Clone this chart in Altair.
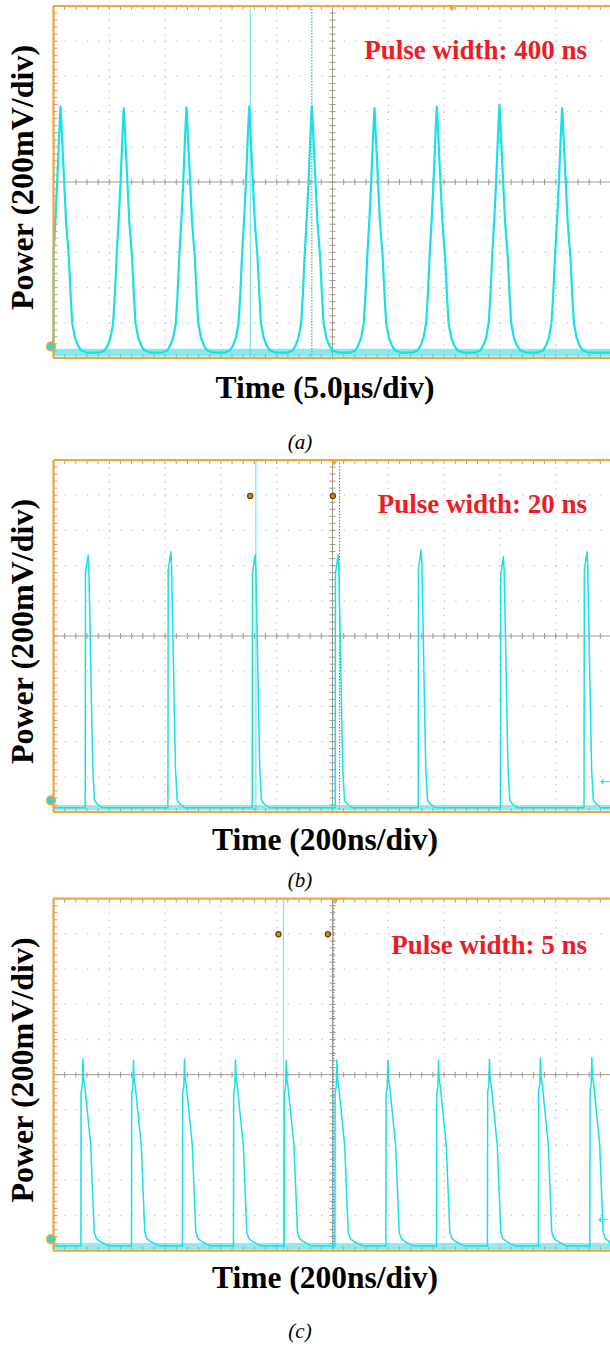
import altair as alt
import pandas as pd

# ---------------------------------------------------------------
# Oscilloscope captures of a pulse train at three pulse widths.
# Vertical values are in screen divisions (200 mV/div), 0 = bottom.
# ---------------------------------------------------------------

# (a) pulse width 400 ns, time base 5.0 µs/div (times in µs)
a_peak_time = [0.63, 6.30, 11.92, 17.54, 23.15, 28.76, 34.35, 39.96, 45.58]
a_peak_level = [7.14, 7.09, 7.12, 7.14, 7.16, 7.09, 7.14, 7.19, 7.09]
a_shape_dt = [-2.2, -1.7, -1.45, -1.2, -0.96, -0.8, -0.65, -0.45, -0.30, -0.13, -0.05, 0.0,
              0.05, 0.13, 0.33, 0.5, 0.74, 0.9, 1.05, 1.3, 1.55, 1.85, 2.4]
a_shape_frac = [0.0, 0.01, 0.03, 0.06, 0.12, 0.24, 0.39, 0.55, 0.69, 0.88, 0.96, 1.0,
                0.96, 0.88, 0.69, 0.53, 0.39, 0.24, 0.12, 0.06, 0.03, 0.01, 0.0]
a_base = 0.15
a_noise = [0.04, 0.26]

# (b) pulse width 20 ns, time base 200 ns/div (times in ns)
b_peak_time = [124.4, 420.8, 722.9, 1020.4, 1317.9, 1612.8, 1912.3]
b_peak_level = [7.30, 7.39, 7.30, 7.30, 7.44, 7.25, 7.39]
b_shape_dt = [-10.8, -9.7, 0.0, 2.2, 7.2, 11.8, 16.5, 22.6, 32.3, 50.2]
b_shape_frac = [0.0, 0.93, 1.0, 0.95, 0.68, 0.40, 0.15, 0.03, 0.015, 0.0]
b_base = 0.12
b_noise = [0.05, 0.2]

# (c) pulse width 5 ns, time base 200 ns/div (times in ns)
c_peak_time = [105.4, 286.7, 469.5, 652.3, 834.0, 1015.7, 1198.5, 1380.0,
               1562.6, 1745.3, 1929.6]
c_peak_level = [5.44, 5.40, 5.44, 5.42, 5.40, 5.42, 5.40, 5.40, 5.44, 5.48, 5.48]
c_shape_dt = [-7.2, -6.5, -2.2, 0.0, 2.2, 6.5, 28.0, 40.5, 48.4, 61.0, 93.2]
c_shape_frac = [0.0, 0.82, 0.86, 1.0, 0.90, 0.86, 0.54, 0.075, 0.04, 0.025, 0.0]
c_base = 0.13
c_noise = [0.05, 0.22]

# scope cursors and markers
a_cursor, a_marker_line, a_trigger = [17.63], [23.15], [35.7]
b_cursor, b_marker_line, b_trigger = [725.4], [1025.0], [1007.0]
c_cursor, c_marker_line, c_trigger = [824.3], [1004.0], [1010.0]
b_dot_time, b_dot_level = [705.0, 1001.4], [8.98, 8.98]
c_dot_time, c_dot_level = [806.4, 983.4], [8.99, 8.99]
b_arrow_time, b_arrow_level = [1977.0], [0.85]
c_arrow_time, c_arrow_level = [1970.0], [0.87]
ground_level = 0.33

# text
y_title = "Power (200mV/div)"
x_titles = ["Time (5.0\u00b5s/div)", "Time (200ns/div)", "Time (200ns/div)"]
captions = ["(a)", "(b)", "(c)"]
notes = ["Pulse width: 400 ns", "Pulse width: 20 ns", "Pulse width: 5 ns"]

# ---------------------------------------------------------------
FRAME_LEFT = 53.5
DIV_W = 55.8
DIV_H = 35.2
N_DIV = 10
RIGHT_EDGE = 610

FRAME = "#f2a53a"
GRID = "#c9c9c9"
AXIS = "#a39a8e"
TICK = "#a0a0a0"
TRACE = "#17e0e8"
NOISE = "#38d9dd"
CURSOR = "#7ee9f2"
DOTTED = "#2f9fae"
DOT = "#d98a12"
RED = "#ee1b24"
SERIF = "Liberation Serif"


def build_trace(peaks, levels, dts, fracs, base, t_end):
    rows = [(min(0.0, peaks[0] + dts[0]), base)]
    for tp, lv in zip(peaks, levels):
        for dt, f in zip(dts, fracs):
            rows.append((tp + dt, base + f * (lv - base)))
    rows.append((t_end, base))
    return pd.DataFrame({"t": [r[0] for r in rows], "v": [r[1] for r in rows],
                         "i": list(range(len(rows)))})


panels = [
    dict(span=50.0, bottom=358.0, peaks=a_peak_time, levels=a_peak_level,
         dts=a_shape_dt, fracs=a_shape_frac, base=a_base, noise=a_noise,
         cursor=a_cursor, marker_line=a_marker_line, trigger=a_trigger,
         dots=None, arrow=None, lw=2.2, noise_op=0.6,
         title_y=177.5, xt_base=398, cap_base=449, note_base=59),
    dict(span=2000.0, bottom=812.0, peaks=b_peak_time, levels=b_peak_level,
         dts=b_shape_dt, fracs=b_shape_frac, base=b_base, noise=b_noise,
         cursor=b_cursor, marker_line=b_marker_line, trigger=b_trigger,
         dots=(b_dot_time, b_dot_level), arrow=(b_arrow_time, b_arrow_level),
         lw=1.5, noise_op=0.55,
         title_y=631.5, xt_base=850, cap_base=887, note_base=513),
    dict(span=2000.0, bottom=1250.7, peaks=c_peak_time, levels=c_peak_level,
         dts=c_shape_dt, fracs=c_shape_frac, base=c_base, noise=c_noise,
         cursor=c_cursor, marker_line=c_marker_line, trigger=c_trigger,
         dots=(c_dot_time, c_dot_level), arrow=(c_arrow_time, c_arrow_level),
         lw=1.5, noise_op=0.55,
         title_y=1070, xt_base=1288, cap_base=1338, note_base=954),
]


def panel_layers(k, p):
    span, bottom = p["span"], p["bottom"]
    top = bottom - N_DIV * DIV_H
    right = FRAME_LEFT + N_DIV * DIV_W
    cx = FRAME_LEFT + 5 * DIV_W
    cy = bottom - 5 * DIV_H

    def sx(clamp=False):
        return alt.Scale(domain=[0, span], range=[FRAME_LEFT, right],
                         nice=False, zero=False, clamp=clamp)

    def sy(clamp=False):
        return alt.Scale(domain=[0, N_DIV], range=[bottom, top],
                         nice=False, zero=False, clamp=clamp)

    def X(f, clamp=False):
        return alt.X(f, type="quantitative", scale=sx(clamp), axis=None)

    def Y(f, clamp=False):
        return alt.Y(f, type="quantitative", scale=sy(clamp), axis=None)

    step = span / N_DIV
    major_t = pd.DataFrame({"t": [step * i for i in range(1, N_DIV)]})
    minor_t = pd.DataFrame({"t": [step * i / 5 for i in range(0, 5 * N_DIV + 1)]})
    major_v = pd.DataFrame({"v": list(range(1, N_DIV))})
    minor_v = pd.DataFrame({"v": [i / 5 for i in range(0, 5 * N_DIV + 1)]})
    one = pd.DataFrame({"k": [0]})

    L = []
    # dotted graticule
    L.append(alt.Chart(major_t).mark_rule(color=GRID, strokeWidth=1.3,
             strokeDash=[1.3, DIV_H / 5 - 1.3]).encode(
        x=X("t"), y=alt.value(top), y2=alt.value(bottom)))
    L.append(alt.Chart(major_v).mark_rule(color=GRID, strokeWidth=1.3,
             strokeDash=[1.3, DIV_W / 5 - 1.3]).encode(
        y=Y("v"), x=alt.value(FRAME_LEFT), x2=alt.value(right)))
    # centre cross with its minor ticks
    L.append(alt.Chart(pd.DataFrame({"t": [span / 2]})).mark_rule(
        color=AXIS, strokeWidth=1).encode(x=X("t"), y=alt.value(top), y2=alt.value(bottom)))
    L.append(alt.Chart(pd.DataFrame({"v": [5]})).mark_rule(
        color=AXIS, strokeWidth=1).encode(y=Y("v"), x=alt.value(FRAME_LEFT), x2=alt.value(right)))
    L.append(alt.Chart(minor_t).mark_rule(color=AXIS, strokeWidth=1).encode(
        x=X("t"), y=alt.value(cy - 3), y2=alt.value(cy + 3)))
    L.append(alt.Chart(minor_v).mark_rule(color=AXIS, strokeWidth=1).encode(
        y=Y("v"), x=alt.value(cx - 3), x2=alt.value(cx + 3)))
    # ticks along the frame edges
    L.append(alt.Chart(minor_t).mark_rule(color=TICK, strokeWidth=1).encode(
        x=X("t"), y=alt.value(top), y2=alt.value(top + 4)))
    L.append(alt.Chart(minor_t).mark_rule(color=TICK, strokeWidth=1).encode(
        x=X("t"), y=alt.value(bottom - 4), y2=alt.value(bottom)))
    L.append(alt.Chart(minor_v).mark_rule(color=TICK, strokeWidth=1).encode(
        y=Y("v"), x=alt.value(FRAME_LEFT), x2=alt.value(FRAME_LEFT + 4)))
    # cursors
    L.append(alt.Chart(pd.DataFrame({"t": p["cursor"]})).mark_rule(
        color=CURSOR, strokeWidth=1.3).encode(x=X("t"), y=alt.value(top), y2=alt.value(bottom)))
    L.append(alt.Chart(pd.DataFrame({"t": p["marker_line"]})).mark_rule(
        color=DOTTED, strokeWidth=1.1, strokeDash=[1.5, 1.5]).encode(
        x=X("t"), y=alt.value(top), y2=alt.value(bottom)))
    # baseline noise band
    band = pd.DataFrame({"t": [0.0, span], "lo": [p["noise"][0]] * 2,
                         "hi": [p["noise"][1]] * 2})
    L.append(alt.Chart(band).mark_area(color=NOISE, opacity=p["noise_op"]).encode(
        x=X("t"), y=Y("lo"), y2=alt.Y2("hi")))
    # the trace
    trace = build_trace(p["peaks"], p["levels"], p["dts"], p["fracs"], p["base"], span)
    L.append(alt.Chart(trace).mark_line(color=TRACE, strokeWidth=p["lw"],
                                        strokeJoin="round").encode(
        x=X("t", True), y=Y("v", True), order=alt.Order("i:Q")))
    # frame (top, left, bottom)
    L.append(alt.Chart(one).mark_rule(color=FRAME, strokeWidth=2.2).encode(
        x=alt.value(FRAME_LEFT), x2=alt.value(RIGHT_EDGE), y=alt.value(top)))
    L.append(alt.Chart(one).mark_rule(color=FRAME, strokeWidth=2.2).encode(
        x=alt.value(FRAME_LEFT), x2=alt.value(RIGHT_EDGE), y=alt.value(bottom)))
    L.append(alt.Chart(one).mark_rule(color=FRAME, strokeWidth=2.2).encode(
        x=alt.value(FRAME_LEFT), y=alt.value(top), y2=alt.value(bottom)))
    # trigger position marker
    L.append(alt.Chart(pd.DataFrame({"t": p["trigger"]})).mark_point(
        shape="triangle-down", filled=True, color=FRAME, size=35, opacity=1).encode(
        x=X("t"), y=alt.value(top + 3)))
    # channel ground marker
    L.append(alt.Chart(pd.DataFrame({"v": [ground_level]})).mark_circle(
        size=75, color="#3cd2c8", stroke=FRAME, strokeWidth=1.6, opacity=1).encode(
        x=alt.value(FRAME_LEFT - 2.5), y=Y("v")))
    if p["dots"] is not None:
        dots = pd.DataFrame({"t": p["dots"][0], "v": p["dots"][1]})
        L.append(alt.Chart(dots).mark_circle(size=26, color=DOT, stroke="#6a3c00",
                                             strokeWidth=1.2, opacity=1).encode(
            x=X("t"), y=Y("v")))
    if p["arrow"] is not None:
        arr = pd.DataFrame({"t": p["arrow"][0], "v": p["arrow"][1], "s": ["\u2190"]})
        L.append(alt.Chart(arr).mark_text(color=TRACE, fontSize=13, baseline="middle",
                                          font="DejaVu Sans").encode(
            x=X("t"), y=Y("v"), text="s:N"))

    # titles and labels
    L.append(alt.Chart(pd.DataFrame({"s": [y_title]})).mark_text(
        font=SERIF, fontWeight="bold", fontSize=32, angle=270, align="center",
        baseline="middle", color="black").encode(
        x=alt.value(23), y=alt.value(p["title_y"]), text="s:N"))
    L.append(alt.Chart(pd.DataFrame({"s": [x_titles[k]]})).mark_text(
        font=SERIF, fontWeight="bold", fontSize=31.5, align="center",
        baseline="alphabetic", color="black").encode(
        x=alt.value(325), y=alt.value(p["xt_base"]), text="s:N"))
    L.append(alt.Chart(pd.DataFrame({"s": [captions[k]]})).mark_text(
        font=SERIF, fontStyle="italic", fontSize=21, align="center",
        baseline="alphabetic", color="black").encode(
        x=alt.value(300), y=alt.value(p["cap_base"]), text="s:N"))
    L.append(alt.Chart(pd.DataFrame({"s": [notes[k]]})).mark_text(
        font=SERIF, fontWeight="bold", fontSize=27, align="right",
        baseline="alphabetic", color=RED).encode(
        x=alt.value(587), y=alt.value(p["note_base"]), text="s:N"))
    return L


layers = []
for k, p in enumerate(panels):
    layers.extend(panel_layers(k, p))

chart = alt.layer(*layers).resolve_scale(
    x="independent", y="independent"
).properties(
    width=610, height=1346, padding=0,
    autosize=alt.AutoSizeParams(type="none"),
).configure_view(strokeWidth=0)

chart.save("out.html", embed_options={"renderer": "svg", "actions": False})
